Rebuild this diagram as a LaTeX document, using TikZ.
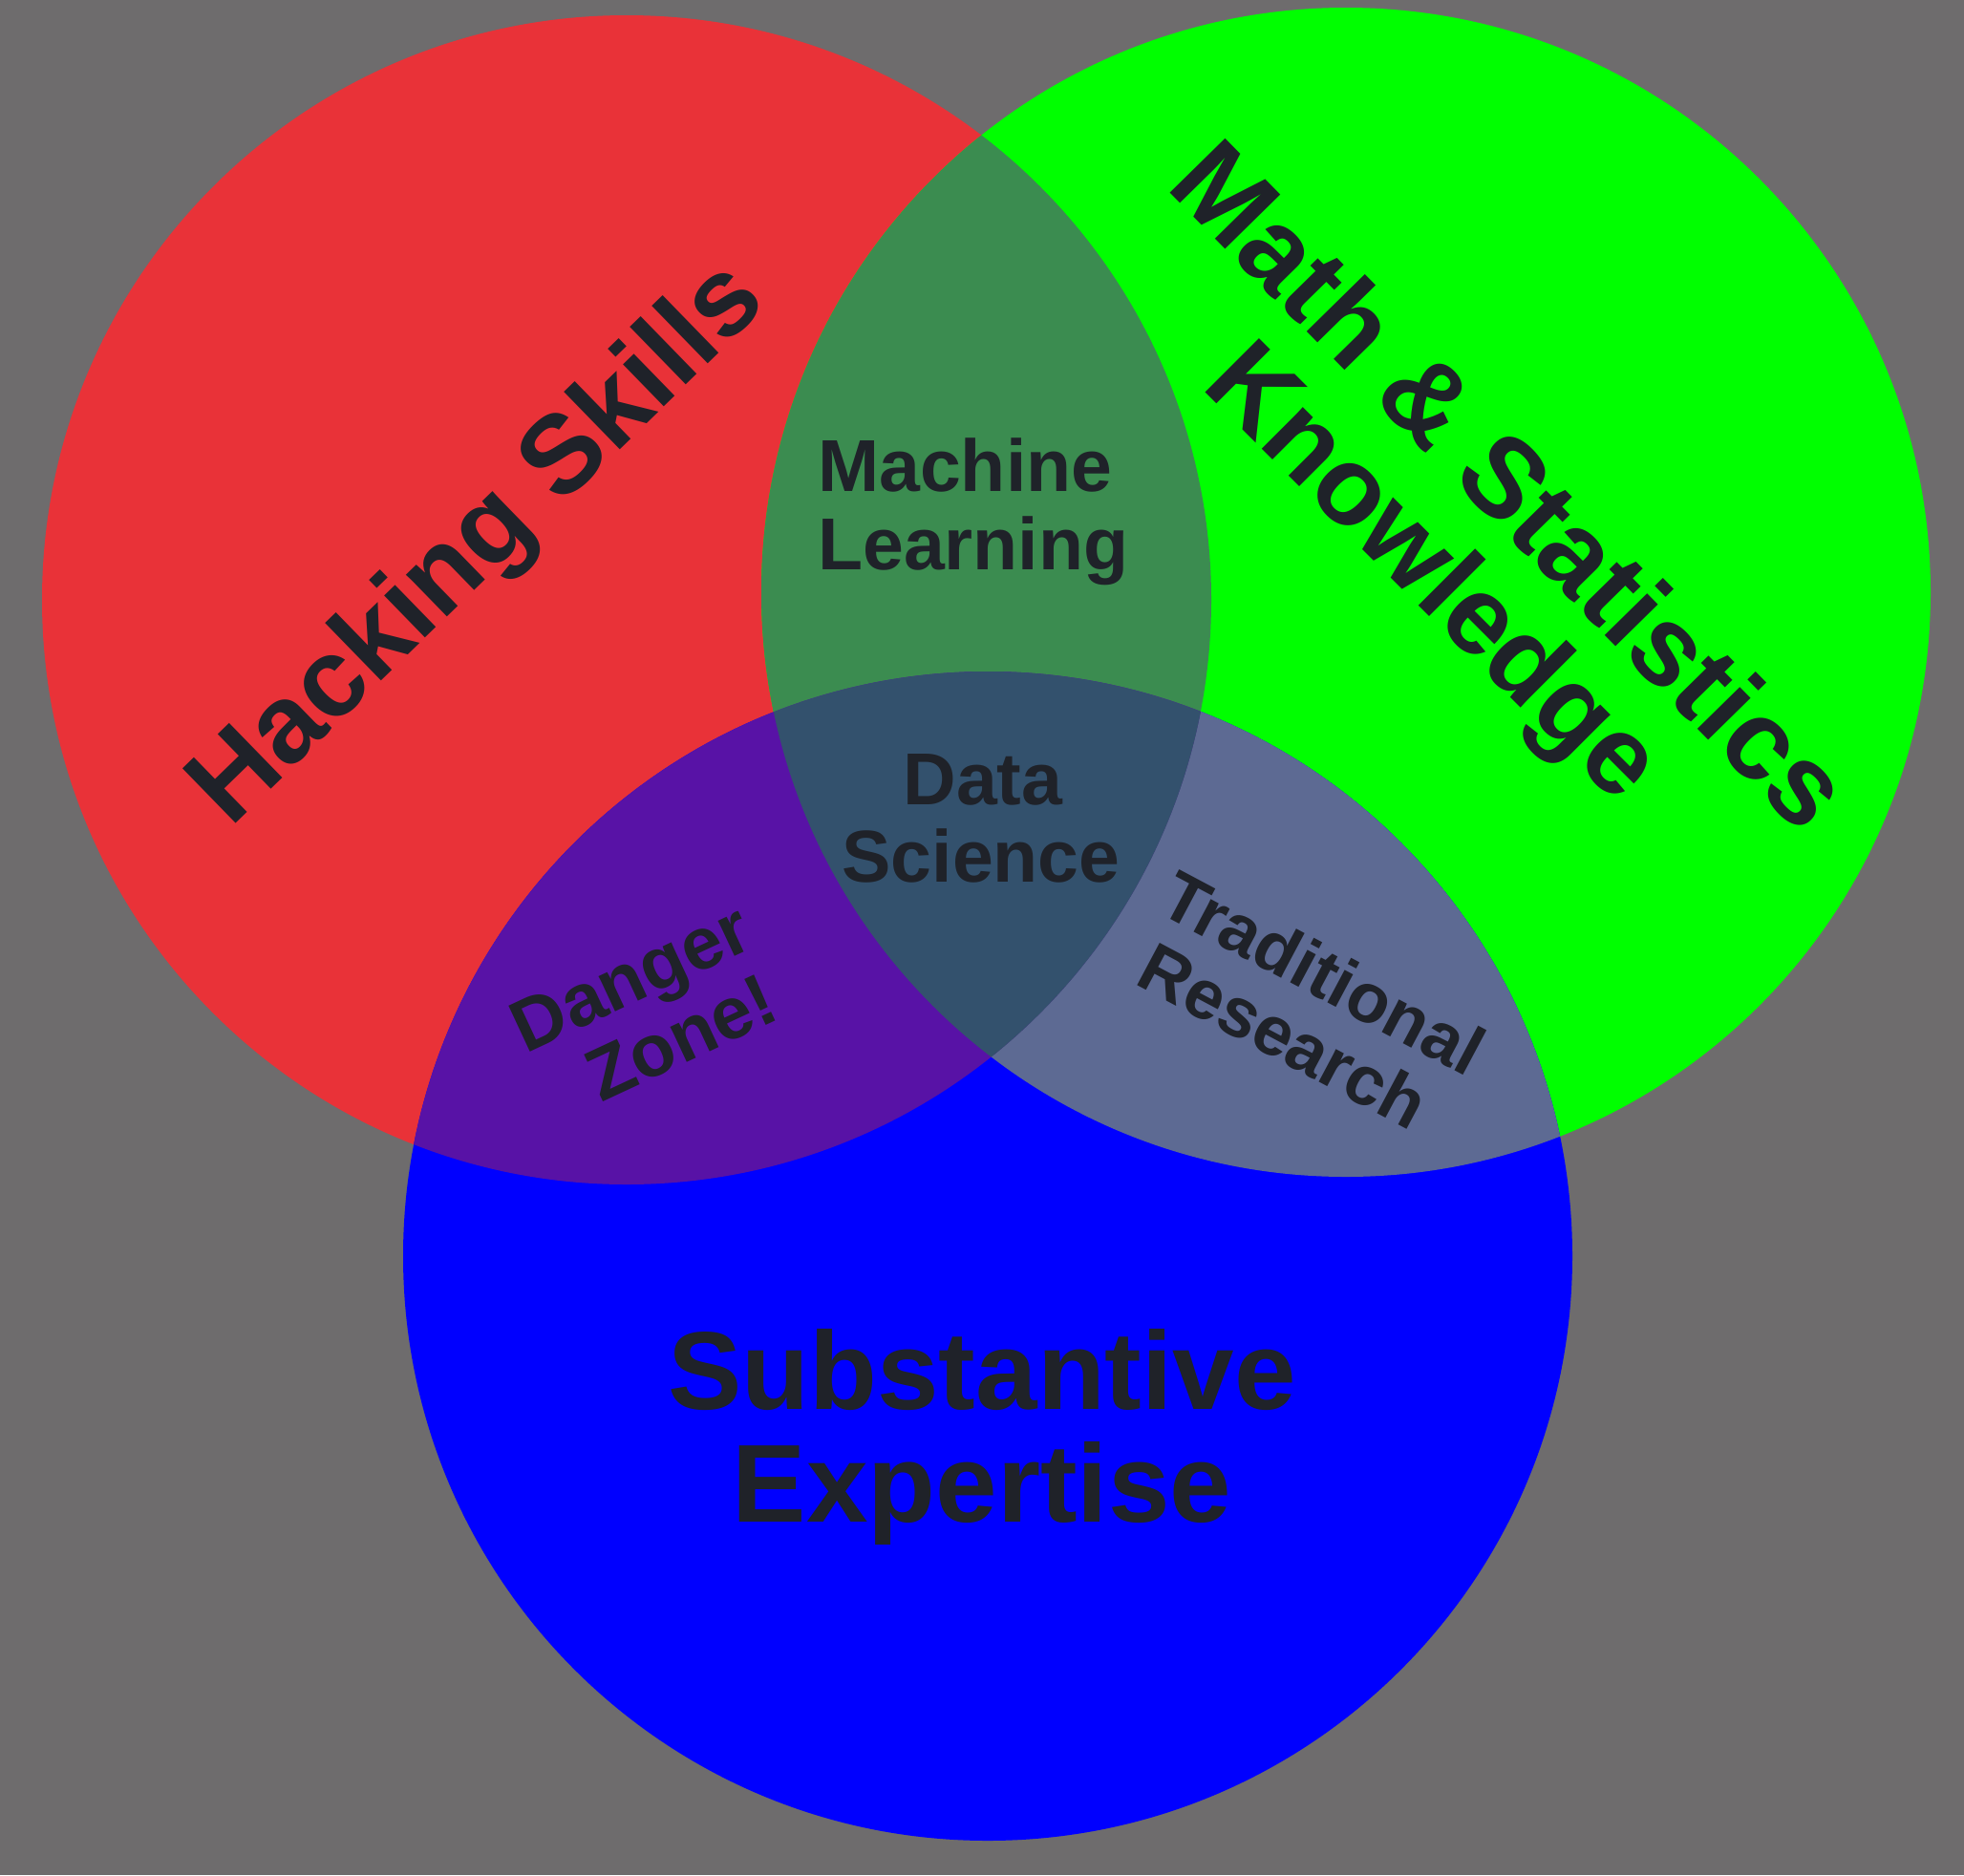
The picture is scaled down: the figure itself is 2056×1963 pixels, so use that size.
\documentclass[tikz,border=0pt]{standalone}
\usepackage{fontspec}
\setmainfont{Liberation Sans}

% region colours
\definecolor{bgc}{HTML}{6E6C6D}
\definecolor{redc}{HTML}{E93238}
\definecolor{greenc}{HTML}{00FF00}
\definecolor{bluec}{HTML}{0000FF}
\definecolor{mlc}{HTML}{3B8C50}
\definecolor{dzc}{HTML}{5812A6}
\definecolor{trc}{HTML}{5D6A93}
\definecolor{dsc}{HTML}{33516D}
\definecolor{inkc}{HTML}{1F2229}

\begin{document}
\begin{tikzpicture}[x=1pt,y=-1pt,
  lbl/.style={text=inkc, inner sep=0pt, anchor=base,
    font=\bfseries\fontsize{#1}{#1}\selectfont},
  lbl/.default=77
]
\useasboundingbox (0,0) rectangle (2056,1963);
\fill[bgc] (0,0) rectangle (2056,1963);

% circle centres
\coordinate (cr) at (656,628);
\coordinate (cg) at (1409,620);
\coordinate (cb) at (1034,1315);
\def\rad{612pt}

% the three sets
\fill[redc]   (cr) circle[radius=\rad];
\fill[greenc] (cg) circle[radius=\rad];
\fill[bluec]  (cb) circle[radius=\rad];

% green and blue overlap
\begin{scope}
  \clip (cg) circle[radius=\rad];
  \fill[trc] (cb) circle[radius=\rad];
\end{scope}

% overlaps with the red set, and the common centre
\begin{scope}
  \clip (cr) circle[radius=\rad];
  \fill[mlc] (cg) circle[radius=\rad];
  \fill[dzc] (cb) circle[radius=\rad];
  \clip (cg) circle[radius=\rad];
  \fill[dsc] (cb) circle[radius=\rad];
\end{scope}

% set labels
\node[lbl=116, rotate=44.2] (hack) at (523,593) {Hacking Skills};
\node[lbl=118, rotate=-45.5] (math1) at (1553,536) {Math \& Statistics};
\node[lbl=116, rotate=-45] (math2) at (1475,624) {Knowledge};
\node[lbl=116] (sub1) at (1028,1475) {Substantive};
\node[lbl=116] (sub2) at (1028,1593) {Expertise};

% overlap labels
\node[lbl, anchor=base west] (ml1) at (856,514) {Machine};
\node[lbl, anchor=base west] (ml2) at (856,596) {Learning};
\node[lbl] (ds1) at (1029,842) {Data};
\node[lbl] (ds2) at (1027,923) {Science};
\node[lbl, rotate=25] (dz1) at (671,1047) {Danger};
\node[lbl, rotate=25] (dz2) at (724,1110) {Zone!};
\node[lbl=73, rotate=-28] (tr1) at (1373,1041) {Traditional};
\node[lbl=73, rotate=-28] (tr2) at (1332,1107) {Research};
\end{tikzpicture}
\end{document}
